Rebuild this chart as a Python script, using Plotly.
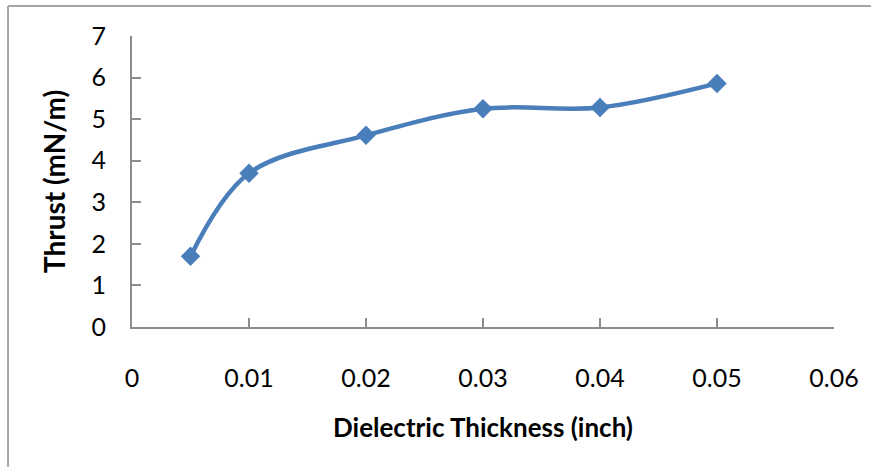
import plotly.graph_objects as go

# Measured thrust vs dielectric thickness
thickness_in = [0.005, 0.01, 0.02, 0.03, 0.04, 0.05]
thrust_mn_per_m = [1.70, 3.70, 4.61, 5.25, 5.28, 5.86]

x_ticks = [0, 0.01, 0.02, 0.03, 0.04, 0.05, 0.06]
x_tick_text = ["0", "0.01", "0.02", "0.03", "0.04", "0.05", "0.06"]
y_ticks = [0, 1, 2, 3, 4, 5, 6, 7]

line_color = "#4a7ebb"
axis_color = "#8c8c8c"
font_family = "Lato, 'Open Sans', sans-serif"

fig = go.Figure(
    go.Scatter(
        x=thickness_in,
        y=thrust_mn_per_m,
        mode="lines+markers",
        line=dict(color=line_color, width=4.5, shape="spline", smoothing=1),
        marker=dict(symbol="diamond", size=15, color=line_color),
        showlegend=False,
    )
)

fig.update_layout(
    width=871,
    height=467,
    margin=dict(l=132, r=37, t=36, b=140),
    paper_bgcolor="white",
    plot_bgcolor="white",
    font=dict(family=font_family, color="black", size=20),
)

fig.update_xaxes(
    range=[0, 0.06],
    tickvals=x_ticks,
    ticktext=x_tick_text,
    showgrid=False,
    zeroline=False,
    showline=True,
    linecolor=axis_color,
    linewidth=2,
    ticks="inside",
    ticklen=9,
    tickwidth=2,
    tickcolor=axis_color,
    ticklabelstandoff=28,
    tickfont=dict(size=25),
    title=dict(
        text="<b>Dielectric Thickness (inch)</b>",
        font=dict(size=26),
        standoff=28,
    ),
)

fig.update_yaxes(
    range=[0, 7],
    tickvals=y_ticks,
    showgrid=False,
    zeroline=False,
    showline=True,
    linecolor=axis_color,
    linewidth=2,
    ticks="inside",
    ticklen=9,
    tickwidth=2,
    tickcolor=axis_color,
    ticklabelstandoff=19,
    tickfont=dict(size=25),
    title=dict(
        text="<b>Thrust (mN/m)</b>",
        font=dict(size=28),
        standoff=18,
    ),
)

# Outer chart frame (left and top edges, running off the page)
frame = dict(color="#a6a6a6", width=2)
fig.add_shape(type="line", xref="paper", yref="paper",
              x0=-0.1766, x1=1.2, y0=1.1031, y1=1.1031, line=frame)
fig.add_shape(type="line", xref="paper", yref="paper",
              x0=-0.1766, x1=-0.1766, y0=1.1031, y1=-0.6, line=frame)

fig.write_html("out.html")
